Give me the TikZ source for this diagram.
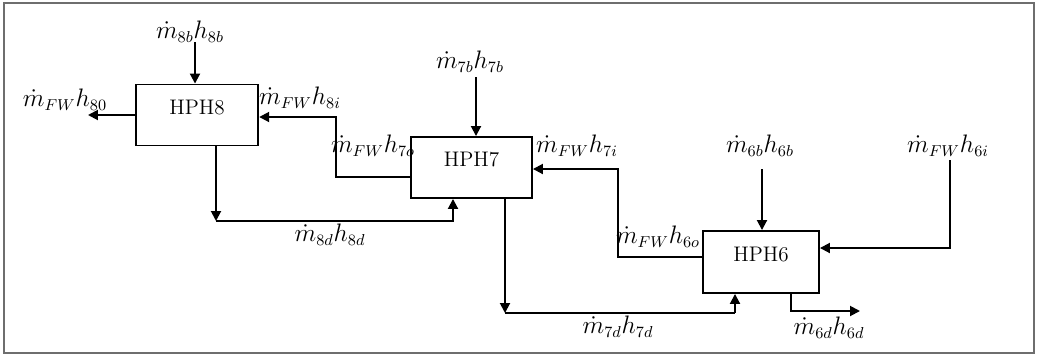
\documentclass[tikz,border=0pt]{standalone}
\usepackage{xcolor}
\usepackage{tikz}
\usetikzlibrary{arrows.meta,positioning,calc}
\definecolor{framegray}{RGB}{110,110,110}

\begin{document}
\begin{tikzpicture}[
    x=0.02cm, y=-0.02cm,
    heater/.style={draw=black, line width=1.1pt, fill=white, minimum width=2.45cm,
                minimum height=1.22cm, text height=0.35cm, text depth=0.38cm,
                font=\large},
    lbl/.style={font=\fontsize{13.5}{16}\selectfont, inner sep=1pt},
    arr/.style={-{Triangle[length=2mm, width=2mm]}, line width=1.1pt, black},
    thinpipe/.style={line width=0.6pt, black}
]
\useasboundingbox (0,0) rectangle (1038,356);
\draw[framegray, line width=0.8pt] (4,3) rectangle (1034,353);

\node[heater] (hph8) at (197,115) {HPH8};
\node[heater, minimum width=2.42cm] (hph7) at (471.5,167.5) {HPH7};
\node[heater, minimum width=2.32cm, minimum height=1.24cm] (hph6) at (761,262) {HPH6};

\node[lbl] (l8b) at (190,32) {$\dot m_{8b}h_{8b}$};
\node[lbl] (l8o) at (65,100) {$\dot m_{FW}h_{80}$};
\node[lbl] (l8i) at (300,98) {$\dot m_{FW}h_{8i}$};
\node[lbl] (l7o) at (373,146) {$\dot m_{FW}h_{7o}$};
\node[lbl] (l7b) at (470,62) {$\dot m_{7b}h_{7b}$};
\node[lbl] (l8d) at (330,235) {$\dot m_{8d}h_{8d}$};
\node[lbl] (l7i) at (577,146) {$\dot m_{FW}h_{7i}$};
\node[lbl] (l6o) at (658,237) {$\dot m_{FW}h_{6o}$};
\node[lbl] (l6b) at (760,146) {$\dot m_{6b}h_{6b}$};
\node[lbl] (l6i) at (948,146) {$\dot m_{FW}h_{6i}$};
\node[lbl] (l7d) at (618,327) {$\dot m_{7d}h_{7d}$};
\node[lbl] (l6d) at (829,328) {$\dot m_{6d}h_{6d}$};

\coordinate (s8b) at (195,42);
\coordinate (e8o) at (88,115);
\coordinate (k7o) at (336,177);
\coordinate (k8i) at (336,117);
\coordinate (s7b) at (476,77);
\coordinate (k8d) at (216,221);
\coordinate (k8d2) at (453,221);
\coordinate (k6o) at (618,257);
\coordinate (k7i) at (618,169);
\coordinate (s6b) at (762,169);
\coordinate (s6i) at (950,160);
\coordinate (k6i) at (950,248);
\coordinate (k7d) at (505,313);
\coordinate (k7d2) at (735,313);
\coordinate (k6d) at (791,311);
\coordinate (e6d) at (860,311);

\draw[arr] (s8b) -- (s8b |- hph8.north);
\draw[arr] (hph8.west) -- (e8o);
\draw[arr] (k7o -| hph7.west) -- (k7o) -- (k8i) -- (k8i -| hph8.east);
\draw[arr] (s7b) -- (s7b |- hph7.north);
\draw[arr] (hph8.south -| k8d) -- (k8d);
\draw[arr] (k8d) -- (k8d2) -- (k8d2 |- hph7.south);
\draw[arr] (k6o -| hph6.west) -- (k6o) -- (k7i) -- (k7i -| hph7.east);
\draw[arr] (s6b) -- (s6b |- hph6.north);
\draw[arr] (s6i) -- (k6i) -- (k6i -| hph6.east);
\draw[arr] (hph7.south -| k7d) -- (k7d);
\draw[thinpipe] (k7d) -- (k7d2);
\draw[arr] (k7d2) -- (k7d2 |- hph6.south);
\draw[arr] (hph6.south -| k6d) -- (k6d) -- (e6d);
\end{tikzpicture}
\end{document}
